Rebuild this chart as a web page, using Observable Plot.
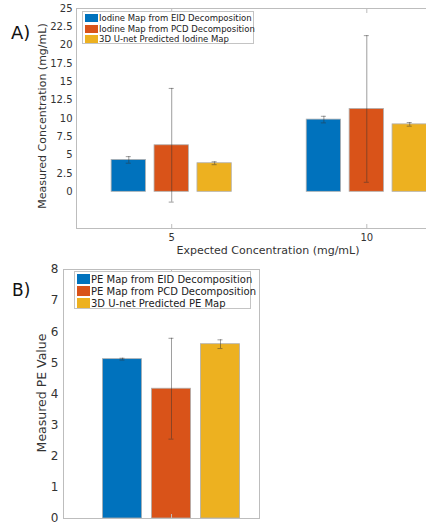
<!DOCTYPE html>
<html><head><meta charset="utf-8">
<script src="https://cdn.jsdelivr.net/npm/d3@7"></script>
<script src="https://cdn.jsdelivr.net/npm/@observablehq/plot@0.6"></script>
<style>
body{margin:0;background:#fff;font-family:"DejaVu Sans",sans-serif;}
#wrap{position:relative;width:426px;height:527px;overflow:hidden;background:#fff;}
.panel{position:absolute;left:0;}
.tag{position:absolute;font-size:17px;color:#111;line-height:1;}
.ylab{position:absolute;color:#333;white-space:nowrap;transform:translate(-50%,-50%) rotate(-90deg);line-height:1;}
.xlab{position:absolute;color:#333;white-space:nowrap;transform:translate(-50%,-50%);line-height:1;}
.legend{position:absolute;background:#fff;border:1px solid #c4c4c4;box-sizing:border-box;color:#222;}
.legend .row{display:flex;align-items:center;white-space:nowrap;}
.legend .sw{display:inline-block;flex:none;}
</style></head>
<body><div id="wrap"></div>
<script>
// ---------- data ----------
const seriesA = ["Iodine Map from EID Decomposition", "Iodine Map from PCD Decomposition", "3D U-net Predicted Iodine Map"];
const seriesB = ["PE Map from EID Decomposition", "PE Map from PCD Decomposition", "3D U-net Predicted PE Map"];
const colors = ["#0072BD", "#D95319", "#EDB120"];
const expectedA = [5, 10];
const meanA = [[4.35, 9.85], [6.35, 11.3], [3.9, 9.2]];
const errA  = [[0.45, 0.45], [7.75, 10.0], [0.2, 0.25]];
const groupB = [1];
const meanB = [5.12, 4.17, 5.6];
const errB  = [0.03, 1.62, 0.14];
const yTicksA = [0, 2.5, 5, 7.5, 10, 12.5, 15, 17.5, 20, 22.5, 25];
const yTicksB = [0, 1, 2, 3, 4, 5, 6, 7, 8];

const wrap = document.getElementById("wrap");
const frameColor = "#bdbdbd";
const textColor = "#333";

// ---------- panel A ----------
const offA = 1.1, bwA = 0.88;
const dataA = [];
seriesA.forEach((s, i) => expectedA.forEach((e, j) => {
  dataA.push({series: s, color: colors[i], c: e + (i - 1) * offA, mean: meanA[i][j], err: errA[i][j]});
}));

const plotA = Plot.plot({
  width: 426, height: 262,
  marginLeft: 76, marginRight: 0, marginTop: 8, marginBottom: 34,
  style: {fontFamily: "DejaVu Sans", background: "transparent"},
  x: {domain: [2.56, 11.53]},
  y: {domain: [-5, 25]},
  marks: [
    Plot.rect(dataA, {x1: d => d.c - bwA / 2, x2: d => d.c + bwA / 2, y1: 0, y2: "mean", fill: "color", stroke: "#b0b0b0", strokeWidth: 0.8}),
    Plot.ruleX(dataA, {x: "c", y1: d => d.mean - d.err, y2: d => d.mean + d.err, stroke: "#333", strokeOpacity: 0.6, strokeWidth: 0.8}),
    Plot.ruleY(dataA, {x1: "c", x2: "c", y: d => d.mean + d.err, insetLeft: -2.5, insetRight: -2.5, stroke: "#333", strokeOpacity: 0.6, strokeWidth: 0.8}),
    Plot.ruleY(dataA, {x1: "c", x2: "c", y: d => d.mean - d.err, insetLeft: -2.5, insetRight: -2.5, stroke: "#333", strokeOpacity: 0.6, strokeWidth: 0.8}),
    Plot.axisY({ticks: yTicksA, tickFormat: d => String(d), tickSize: 0, tickPadding: 4, fontSize: 10, fill: textColor, label: null}),
    Plot.axisX({ticks: expectedA, tickFormat: d => String(d), tickSize: 0, tickPadding: 5, fontSize: 10, fill: textColor, label: null}),
    Plot.axisX({anchor: "top", ticks: expectedA, tickFormat: () => "", tickSize: -4, stroke: frameColor, label: null}),
    Plot.axisX({anchor: "bottom", ticks: expectedA, tickFormat: () => "", tickSize: -4, stroke: frameColor, label: null}),
    Plot.frame({anchor: "left", stroke: frameColor}),
    Plot.frame({anchor: "top", stroke: frameColor}),
    Plot.frame({anchor: "bottom", stroke: frameColor})
  ]
});
plotA.classList.add("panel");
plotA.style.top = "0px";
wrap.appendChild(plotA);

// ---------- panel B ----------
const offB = 1, bwB = 0.8;
const dataB = seriesB.map((s, i) => ({series: s, color: colors[i], c: groupB[0] + (i - 1) * offB, mean: meanB[i], err: errB[i]}));

const plotB = Plot.plot({
  width: 262, height: 265,
  marginLeft: 63, marginRight: 3, marginTop: 7, marginBottom: 9,
  style: {fontFamily: "DejaVu Sans", background: "transparent"},
  x: {domain: [-1.204, 2.796]},
  y: {domain: [0, 8]},
  marks: [
    Plot.rect(dataB, {x1: d => d.c - bwB / 2, x2: d => d.c + bwB / 2, y1: 0, y2: "mean", fill: "color", stroke: "#b0b0b0", strokeWidth: 0.8}),
    Plot.ruleX(dataB, {x: "c", y1: d => d.mean - d.err, y2: d => d.mean + d.err, stroke: "#333", strokeOpacity: 0.6, strokeWidth: 0.8}),
    Plot.ruleY(dataB, {x1: "c", x2: "c", y: d => d.mean + d.err, insetLeft: -2.5, insetRight: -2.5, stroke: "#333", strokeOpacity: 0.6, strokeWidth: 0.8}),
    Plot.ruleY(dataB, {x1: "c", x2: "c", y: d => d.mean - d.err, insetLeft: -2.5, insetRight: -2.5, stroke: "#333", strokeOpacity: 0.6, strokeWidth: 0.8}),
    Plot.axisY({ticks: yTicksB, tickFormat: d => String(d), tickSize: 0, tickPadding: 5, fontSize: 12, fill: textColor, label: null}),
    Plot.axisX({anchor: "top", ticks: groupB, tickFormat: () => "", tickSize: -4, stroke: frameColor, label: null}),
    Plot.axisX({anchor: "bottom", ticks: groupB, tickFormat: () => "", tickSize: -4, stroke: frameColor, label: null}),
    Plot.frame({stroke: frameColor})
  ]
});
plotB.classList.add("panel");
plotB.style.top = "262px";
wrap.appendChild(plotB);

// ---------- text: tags, axis titles ----------
function addDiv(cls, text, css) {
  const d = document.createElement("div");
  d.className = cls;
  d.textContent = text;
  Object.assign(d.style, css);
  wrap.appendChild(d);
  return d;
}
addDiv("tag", "A)", {left: "11px", top: "24px", fontSize: "18px"});
addDiv("tag", "B)", {left: "12px", top: "282px", fontSize: "17px"});
addDiv("ylab", "Measured Concentration (mg/mL)", {left: "42px", top: "116px", fontSize: "11px"});
addDiv("xlab", "Expected Concentration (mg/mL)", {left: "268px", top: "250px", fontSize: "11px"});
addDiv("ylab", "Measured PE Value", {left: "42px", top: "393px", fontSize: "12.5px"});

// ---------- legends ----------
function legend(names, css, font, rowH, swW, swH) {
  const box = document.createElement("div");
  box.className = "legend";
  Object.assign(box.style, css);
  names.forEach((n, i) => {
    const r = document.createElement("div");
    r.className = "row";
    r.style.height = rowH + "px";
    r.style.fontSize = font + "px";
    const sw = document.createElement("span");
    sw.className = "sw";
    sw.style.width = swW + "px";
    sw.style.height = swH + "px";
    sw.style.background = colors[i];
    sw.style.marginRight = "1px";
    r.appendChild(sw);
    const t = document.createElement("span");
    t.textContent = n;
    r.appendChild(t);
    box.appendChild(r);
  });
  wrap.appendChild(box);
}
legend(seriesA, {left: "82px", top: "11px", width: "172px", height: "33px", padding: "1px 0 0 2px"}, 8.5, 10.5, 13, 8);
legend(seriesB, {left: "74px", top: "271px", width: "177px", height: "38px", padding: "1px 0 0 2px"}, 10, 12, 13, 10);
</script>
</body></html>
